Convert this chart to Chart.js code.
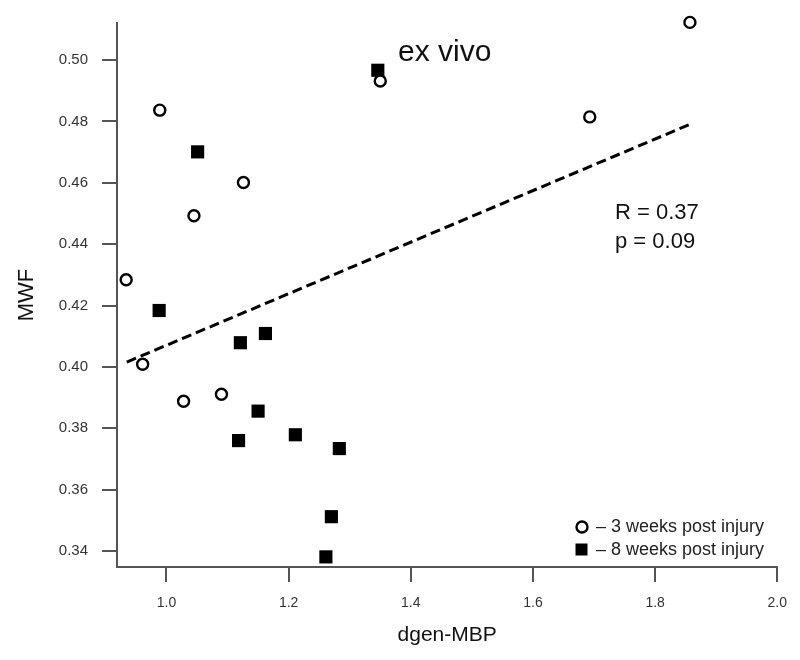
<!DOCTYPE html>
<html>
<head>
<meta charset="utf-8">
<title>MWF vs dgen-MBP (ex vivo)</title>
<script src="https://cdn.jsdelivr.net/npm/chart.js@4.4.1/dist/chart.umd.min.js"></script>
<style>
  html, body { margin: 0; padding: 0; background: #fff; }
  #wrap { width: 800px; height: 660px; }
</style>
</head>
<body>
<div id="wrap"><canvas id="chart" width="800" height="660"></canvas></div>
<script>
// valores
const weeks3X = [0.934, 0.961, 0.989, 1.028, 1.045, 1.090, 1.126, 1.350, 1.693, 1.857];
const weeks3Y = [0.4284, 0.4009, 0.4837, 0.3888, 0.4493, 0.3911, 0.4601, 0.4932, 0.4815, 0.5123];
const weeks8X = [0.988, 1.051, 1.118, 1.121, 1.150, 1.162, 1.211, 1.261, 1.270, 1.283, 1.346];
const weeks8Y = [0.4184, 0.4701, 0.3760, 0.4079, 0.3856, 0.4109, 0.3779, 0.3381, 0.3512, 0.3734, 0.4967];
const fitX = [0.935, 1.855];
const fitY = [0.4016, 0.4789];

const xTicks = [1.0, 1.2, 1.4, 1.6, 1.8, 2.0];
const yTicks = [0.34, 0.36, 0.38, 0.40, 0.42, 0.44, 0.46, 0.48, 0.50];
const seriesNames = ["3 weeks post injury", "8 weeks post injury"];
const plotTitle = "ex vivo";
const statLines = ["R = 0.37", "p = 0.09"];

const FONT = '"Liberation Sans", Arial, sans-serif';

function toPoints(xs, ys) {
  return xs.map((x, i) => ({ x: x, y: ys[i] }));
}

// textos dentro do gráfico (título, estatística, legenda)
const notes = {
  id: "notes",
  afterDatasetsDraw(chart) {
    const c = chart.ctx;
    c.save();
    c.fillStyle = "#111";
    c.textAlign = "left";
    c.textBaseline = "alphabetic";
    c.font = "30px " + FONT;
    c.fillText(plotTitle, 398, 61);

    c.textBaseline = "middle";
    c.font = "22px " + FONT;
    c.fillText(statLines[0], 615, 213);
    c.fillText(statLines[1], 615, 242);

    // legenda
    c.font = "18px " + FONT;
    c.fillStyle = "#222";
    c.fillText("\u2013 " + seriesNames[0], 596, 527);
    c.fillText("\u2013 " + seriesNames[1], 596, 550);
    c.beginPath();
    c.arc(582, 527, 5.5, 0, Math.PI * 2);
    c.lineWidth = 2.4;
    c.strokeStyle = "#000";
    c.stroke();
    c.fillStyle = "#000";
    c.fillRect(575.5, 543.5, 12, 12);
    c.restore();
  }
};

const ctx = document.getElementById("chart").getContext("2d");
const chart = new Chart(ctx, {
  type: "scatter",
  data: {
    datasets: [
      {
        label: seriesNames[1],
        data: toPoints(weeks8X, weeks8Y),
        pointStyle: "rect",
        pointRadius: 9.3,
        backgroundColor: "#000",
        borderColor: "#000",
        borderWidth: 0,
        clip: false,
        order: 3
      },
      {
        label: seriesNames[0],
        data: toPoints(weeks3X, weeks3Y),
        pointStyle: "circle",
        pointRadius: 5.5,
        backgroundColor: "#fff",
        borderColor: "#000",
        borderWidth: 2.4,
        clip: false,
        order: 2
      },
      {
        label: "fit",
        type: "line",
        data: toPoints(fitX, fitY),
        showLine: true,
        pointRadius: 0,
        borderColor: "#000",
        borderWidth: 3,
        borderDash: [10, 5],
        fill: false,
        clip: false,
        order: 1
      }
    ]
  },
  options: {
    responsive: false,
    animation: false,
    layout: { padding: { top: 22, right: 20, left: 0, bottom: 0 } },
    plugins: {
      legend: { display: false },
      tooltip: { enabled: false }
    },
    scales: {
      x: {
        type: "linear",
        min: 0.919,
        max: 2.0,
        afterBuildTicks: (s) => { s.ticks = xTicks.map(v => ({ value: v })); },
        afterFit: (s) => { s.height = 93; },
        grid: { display: true, drawOnChartArea: false, drawTicks: true, tickLength: 15, color: "#555", lineWidth: 2 },
        border: { display: true, color: "#555", width: 2 },
        ticks: {
          color: "#333",
          padding: 13,
          font: { family: FONT, size: 14 },
          callback: (v) => Number(v).toFixed(1)
        },
        title: {
          display: true,
          text: "dgen-MBP",
          color: "#111",
          font: { family: FONT, size: 21 },
          padding: 12
        }
      },
      y: {
        type: "linear",
        min: 0.3348,
        max: 0.5121,
        afterBuildTicks: (s) => { s.ticks = yTicks.map(v => ({ value: v })); },
        afterFit: (s) => { s.width = 117; },
        grid: { display: true, drawOnChartArea: false, drawTicks: true, tickLength: 15, color: "#555", lineWidth: 2 },
        border: { display: true, color: "#555", width: 2 },
        ticks: {
          color: "#333",
          padding: 14,
          font: { family: FONT, size: 15 },
          callback: (v) => Number(v).toFixed(2)
        },
        title: {
          display: true,
          text: "MWF",
          color: "#111",
          font: { family: FONT, size: 22 },
          padding: 14
        }
      }
    }
  },
  plugins: [notes]
});
</script>
</body>
</html>
